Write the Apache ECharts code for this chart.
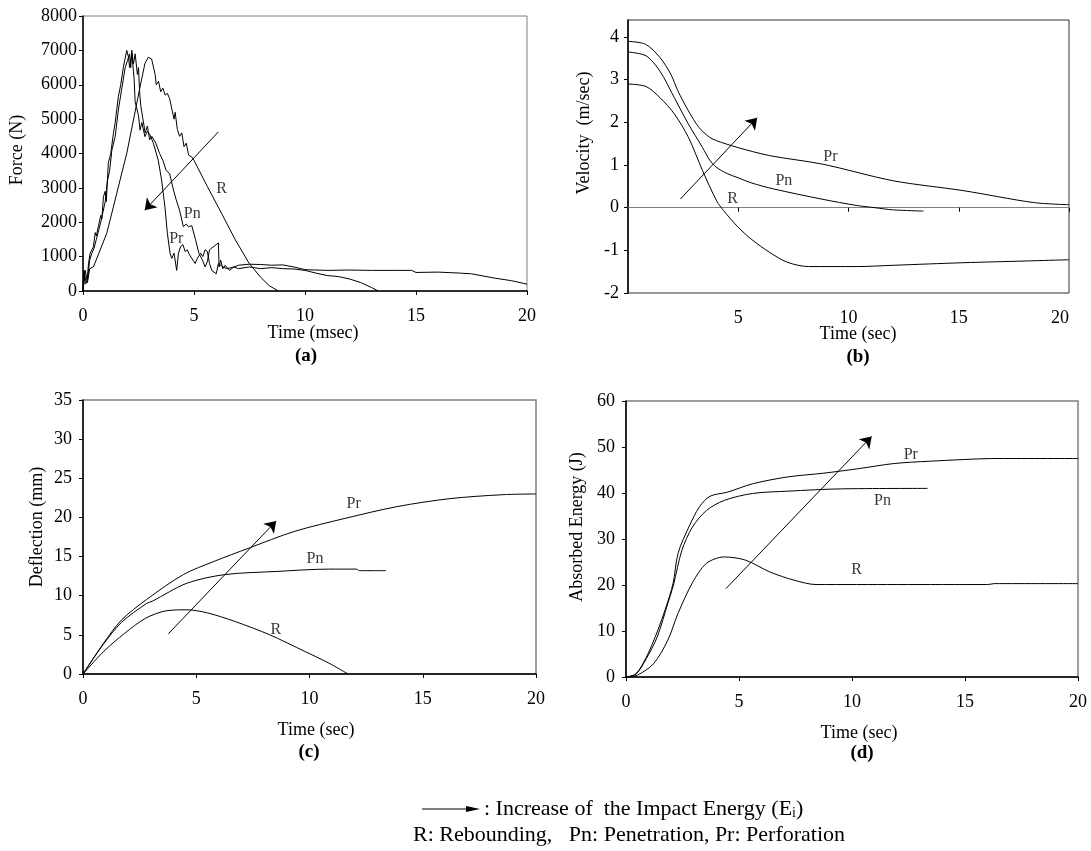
<!DOCTYPE html>
<html>
<head>
<meta charset="utf-8">
<script src="https://cdn.jsdelivr.net/npm/echarts@6/dist/echarts.min.js"></script>
<style>
  html, body { margin: 0; padding: 0; background: #fff; }
  #chart { width: 1091px; height: 851px; }
</style>
</head>
<body>
<div id="chart"></div>
<script>
// ---- (a) force (N) vs time (msec) ----
var forceR = [[0,0],[0.1,600],[0.2,250],[0.3,650],[0.47,700],[0.77,1190],[1.07,1680],[1.37,2450],[1.67,3230],[1.97,4000],[2.27,4970],[2.57,5940],[2.79,6620],[2.94,6800],[3.09,6750],[3.15,6700],[3.25,6300],[3.3,6000],[3.4,6100],[3.5,5800],[3.6,5900],[3.7,5700],[3.8,5750],[3.9,5600],[4.0,5300],[4.1,5000],[4.15,5200],[4.25,4700],[4.35,4500],[4.45,4600],[4.55,4200],[4.65,4300],[4.76,3950],[4.9,3900],[5.0,3800],[5.61,3030],[6.24,2260],[6.86,1490],[7.48,810],[8.0,400],[8.4,150],[8.8,0]];
var forcePn = [[0,0],[0.05,500],[0.1,200],[0.2,300],[0.3,900],[0.4,1100],[0.5,1250],[0.6,1500],[0.7,1750],[0.8,2000],[0.9,2300],[1.0,2600],[1.1,3200],[1.2,3500],[1.3,4100],[1.45,4500],[1.6,5300],[1.75,5900],[1.9,6500],[2.0,6700],[2.1,6900],[2.15,6500],[2.2,7000],[2.27,6600],[2.35,6900],[2.45,6300],[2.5,6500],[2.55,5800],[2.6,5400],[2.7,5000],[2.8,4600],[2.9,4800],[3.0,4400],[3.1,4500],[3.28,4300],[3.45,4000],[3.6,3800],[3.75,3500],[3.9,3420],[4.05,3000],[4.2,2650],[4.35,2350],[4.52,1870],[4.65,1950],[4.75,1870],[4.9,1900],[5.07,1490],[5.22,1100],[5.38,900],[5.5,700],[5.6,850],[5.7,1200],[5.8,1250],[5.9,1300],[6.0,1350],[6.1,1400],[6.13,700],[6.2,900],[6.3,650],[6.4,750],[6.6,600],[6.8,700],[7.0,650],[7.5,700],[8.0,650],[8.5,680],[9.0,650],[9.5,640],[10,600],[10.5,520],[11,450],[11.5,420],[12,350],[12.5,250],[13,100],[13.3,0]];
var forcePr = [[0,0],[0.05,600],[0.12,300],[0.17,230],[0.25,800],[0.32,1100],[0.4,1200],[0.47,1290],[0.55,1700],[0.6,1600],[0.69,1870],[0.8,2200],[0.85,2100],[0.92,2740],[1.0,2900],[1.05,2600],[1.14,3720],[1.25,4000],[1.37,4590],[1.45,4900],[1.59,5650],[1.7,6000],[1.82,6520],[1.97,7000],[2.05,6800],[2.1,6500],[2.2,6900],[2.3,6200],[2.35,5500],[2.42,5550],[2.5,5100],[2.57,4680],[2.65,4900],[2.79,4490],[2.9,4650],[3.02,4540],[3.17,4300],[3.39,3800],[3.54,3230],[3.69,2450],[3.8,1680],[3.92,1100],[4.0,950],[4.1,1100],[4.22,600],[4.3,1100],[4.4,1300],[4.5,1350],[4.6,1150],[4.7,1200],[4.8,1050],[4.95,900],[5.05,800],[5.15,950],[5.3,1100],[5.4,1000],[5.5,1200],[5.6,1150],[5.7,800],[5.8,600],[5.9,550],[6.0,500],[6.1,800],[6.3,700],[6.5,650],[6.8,700],[7.0,750],[7.5,780],[8.0,770],[8.5,750],[9.0,760],[9.5,700],[10,620],[11,600],[12,610],[13,600],[14,600],[14.8,600],[15,540],[16,550],[17,520],[17.5,500],[18.5,380],[19.3,300],[20,200]];
var tagsA = ['R', 'Pn', 'Pr'];
var tagPosA = [[6.24,2970],[4.92,2260],[4.2,1530]];
var arrowA = [[6.1,4630],[2.78,2350]];

// ---- (b) velocity (m/sec) vs time ----
var velPr = [[0,3.9],[0.8,3.83],[1.45,3.52],[1.94,3.13],[2.26,2.74],[2.74,2.27],[3.22,1.88],[3.7,1.65],[4.02,1.57],[4.98,1.41],[6.43,1.22],[8.83,1.02],[12.04,0.63],[15.2,0.4],[18.4,0.12],[20,0.07]];
var velPn = [[0,3.65],[0.82,3.56],[1.45,3.2],[2.1,2.58],[2.74,1.96],[3.38,1.41],[3.7,1.12],[4.0,0.95],[4.5,0.8],[5.0,0.7],[5.6,0.58],[6.6,0.44],[8.8,0.2],[10.4,0.05],[11.2,0],[12,-0.05],[13.4,-0.08]];
var velR = [[0,2.9],[0.82,2.84],[1.45,2.58],[2.1,2.2],[2.74,1.65],[3.38,0.87],[4.02,0.16],[4.34,-0.07],[4.98,-0.45],[5.62,-0.75],[6.43,-1.05],[7.23,-1.28],[8.19,-1.38],[10.4,-1.38],[12.04,-1.35],[15.2,-1.29],[18,-1.25],[20,-1.22]];
var tagsB = ['R', 'Pn', 'Pr'];
var tagPosB = [[4.74,0.2],[7.07,0.62],[9.18,1.19]];
var arrowB = [[2.37,0.2],[5.86,2.11]];

// ---- (c) deflection (mm) vs time ----
var defR = [[0,0],[0.92,2.9],[1.84,5.2],[2.75,7.1],[3.67,8.07],[4.59,8.2],[5.5,7.8],[6.72,6.7],[8.25,5.0],[9.78,2.9],[10.85,1.4],[11.7,0]];
var defPn = [[0,0],[0.9,3.8],[1.7,6.6],[2.8,9.0],[3.06,9.3],[4.59,11.6],[6.27,12.7],[8.56,13.1],[10.85,13.4],[12.07,13.4],[12.2,13.2],[13.37,13.2]];
var defPr = [[0,0],[0.9,3.9],[1.7,6.9],[2.8,9.5],[4.43,12.7],[5.8,14.4],[7.34,16.1],[9.32,18.2],[11.6,19.9],[13.9,21.4],[16.2,22.4],[18.5,22.9],[20,23.0]];
var tagsC = ['R', 'Pn', 'Pr'];
var tagPosC = [[8.51,5.65],[10.24,14.67],[11.95,21.8]];
var arrowC = [[3.77,5.14],[8.53,19.55]];

// ---- (d) absorbed energy (J) vs time ----
var enR = [[0,0],[0.5,0.4],[1.22,2.9],[1.85,8],[2.3,13.8],[2.94,20.5],[3.56,24.7],[4.35,26.1],[5.29,25.4],[6.38,22.8],[7.47,21],[8.41,20.1],[12,20.1],[16,20.1],[16.3,20.3],[20,20.3]];
var enPn = [[0,0],[0.44,0.6],[0.9,4],[1.38,8.7],[1.85,16],[2.1,20],[2.47,27.5],[2.94,32.6],[3.56,36.2],[4.35,38.4],[5.6,39.9],[7.16,40.4],[9.5,40.9],[13.34,41.0]];
var enPr = [[0,0],[0.44,0.7],[0.9,4.3],[1.38,9.8],[1.77,15.2],[2.08,20.3],[2.31,27],[2.78,32.6],[3.25,37],[3.72,39.3],[4.5,40.2],[5.6,42],[7.16,43.5],[8.73,44.3],[10.3,45.3],[11.85,46.4],[13.4,46.9],[16.5,47.5],[20,47.5]];
var tagsD = ['R', 'Pn', 'Pr'];
var tagPosD = [[10.2,23.3],[11.35,38.4],[12.6,48.2]];
var arrowD = [[4.42,19.2],[10.87,52.3]];

var FONT = '"Liberation Serif", "Times New Roman", serif';

function xAxisOf (grid, labelMargin) {
  return {
    type: 'value', gridIndex: grid, min: 0, max: 20, interval: 5,
    axisLine: { show: true, onZero: false, lineStyle: { color: '#000', width: 1.5 } },
    axisTick: { show: true, length: 4, lineStyle: { color: '#000' } },
    axisLabel: { color: '#000', fontFamily: FONT, fontSize: 18, margin: labelMargin, formatter: function (v) { return String(v) } },
    splitLine: { show: false }
  }
}

function yAxisOf (grid, min, max, step, labelMargin) {
  return {
    type: 'value', gridIndex: grid, min: min, max: max, interval: step,
    axisLine: { show: true, onZero: false, lineStyle: { color: '#000', width: 1.5 } },
    axisTick: { show: true, length: 4, lineStyle: { color: '#000' } },
    axisLabel: { color: '#000', fontFamily: FONT, fontSize: 18, margin: labelMargin, formatter: function (v) { return String(v) } },
    splitLine: { show: false }
  }
}

function curve (grid, data, smooth) {
  return {
    type: 'line', xAxisIndex: grid, yAxisIndex: grid, data: data,
    symbol: 'none', showSymbol: false, silent: true,
    smooth: smooth || false,
    lineStyle: { color: '#000', width: 1 }
  }
}

// text tags on the curves, plus the "increase of impact energy" arrow
function tags (grid, names, pos, arrow) {
  return {
    type: 'scatter', xAxisIndex: grid, yAxisIndex: grid, silent: true,
    symbolSize: 1, itemStyle: { color: 'rgba(0,0,0,0)' },
    label: { show: true, position: 'inside', formatter: '{b}', color: '#000', fontFamily: FONT, fontSize: 16 },
    data: names.map(function (n, i) { return { name: n, value: pos[i] } }),
    markLine: {
      silent: true, symbol: ['none', 'arrow'], symbolSize: 11,
      label: { show: false },
      itemStyle: { color: '#000' },
      lineStyle: { color: '#000', width: 1, type: 'solid' },
      data: [[{ coord: arrow[0] }, { coord: arrow[1] }]]
    }
  }
}

function txt (text, x, y, opt) {
  opt = opt || {};
  return {
    type: 'text', x: x, y: y, silent: true,
    rotation: opt.rotate ? Math.PI / 2 : 0,
    style: {
      text: text, fill: '#000', fontFamily: FONT,
      fontSize: opt.size || 18, fontWeight: opt.bold ? 'bold' : 'normal',
      align: opt.align || 'center', verticalAlign: 'middle',
      textAlign: opt.align || 'center', textVerticalAlign: 'middle'
    }
  }
}

var xb = xAxisOf(1, 16);
xb.axisLine = { show: true, onZero: true, lineStyle: { color: '#808080', width: 1 } };
xb.axisLabel.showMinLabel = false;
xb.axisLabel.alignMaxLabel = 'right';

var yb = yAxisOf(1, -2, 4.4, 1, 9);
yb.axisLabel.customValues = [-2, -1, 0, 1, 2, 3, 4];
yb.axisTick.customValues = [-2, -1, 0, 1, 2, 3, 4];

var option = {
  animation: false,
  backgroundColor: '#fff',
  grid: [
    { left: 83, top: 16, width: 444, height: 275, show: true, borderColor: '#808080', borderWidth: 1, containLabel: false, outerBoundsMode: 'none' },
    { left: 628, top: 20, width: 441, height: 273, show: true, borderColor: '#333', borderWidth: 1, containLabel: false, outerBoundsMode: 'none' },
    { left: 83, top: 400, width: 453, height: 274, show: true, borderColor: '#808080', borderWidth: 1.5, containLabel: false, outerBoundsMode: 'none' },
    { left: 626, top: 401, width: 452, height: 276, show: true, borderColor: '#808080', borderWidth: 1.5, containLabel: false, outerBoundsMode: 'none' }
  ],
  xAxis: [xAxisOf(0, 16), xb, xAxisOf(2, 16), xAxisOf(3, 16)],
  yAxis: [
    yAxisOf(0, 0, 8000, 1000, 6),
    yb,
    yAxisOf(2, 0, 35, 5, 11),
    yAxisOf(3, 0, 60, 10, 11)
  ],
  series: [
    curve(0, forceR), curve(0, forcePn), curve(0, forcePr), tags(0, tagsA, tagPosA, arrowA),
    curve(1, velR, 0.3), curve(1, velPn, 0.3), curve(1, velPr, 0.3), tags(1, tagsB, tagPosB, arrowB),
    curve(2, defR, 0.3), curve(2, defPn, 0.3), curve(2, defPr, 0.3), tags(2, tagsC, tagPosC, arrowC),
    curve(3, enR, 0.3), curve(3, enPn, 0.3), curve(3, enPr, 0.3), tags(3, tagsD, tagPosD, arrowD)
  ],
  graphic: [
    txt('Force (N)', 17, 150, { rotate: true }),
    txt('Velocity  (m/sec)', 584, 133, { rotate: true }),
    txt('Deflection (mm)', 37, 527, { rotate: true }),
    txt('Absorbed Energy (J)', 577, 527, { rotate: true }),
    txt('Time (msec)', 313, 333),
    txt('(a)', 306, 356, { bold: true, size: 19 }),
    txt('Time (sec)', 858, 334),
    txt('(b)', 858, 357, { bold: true, size: 19 }),
    txt('Time (sec)', 316, 730),
    txt('(c)', 309, 752, { bold: true, size: 19 }),
    txt('Time (sec)', 859, 733),
    txt('(d)', 862, 753, { bold: true, size: 19 }),
    // legend: arrow + explanation
    { type: 'line', silent: true, shape: { x1: 422, y1: 809, x2: 474, y2: 809 }, style: { stroke: '#000', lineWidth: 1 } },
    { type: 'polygon', silent: true, shape: { points: [[466, 806], [480, 809], [466, 812]] }, style: { fill: '#000' } },
    {
      type: 'text', x: 484, y: 809, silent: true,
      style: {
        text: '{a|: Increase of  the Impact Energy (E}{s|i}{a|)}',
        verticalAlign: 'middle', textVerticalAlign: 'middle', align: 'left', textAlign: 'left',
        rich: {
          a: { fontFamily: FONT, fontSize: 22, fill: '#000', color: '#000' },
          s: { fontFamily: FONT, fontSize: 14, fill: '#000', color: '#000', verticalAlign: 'bottom' }
        }
      }
    },
    txt('R: Rebounding,   Pn: Penetration, Pr: Perforation', 413, 835, { align: 'left', size: 22 })
  ]
};

var chart = echarts.init(document.getElementById('chart'));
chart.setOption(option);
</script>
</body>
</html>
